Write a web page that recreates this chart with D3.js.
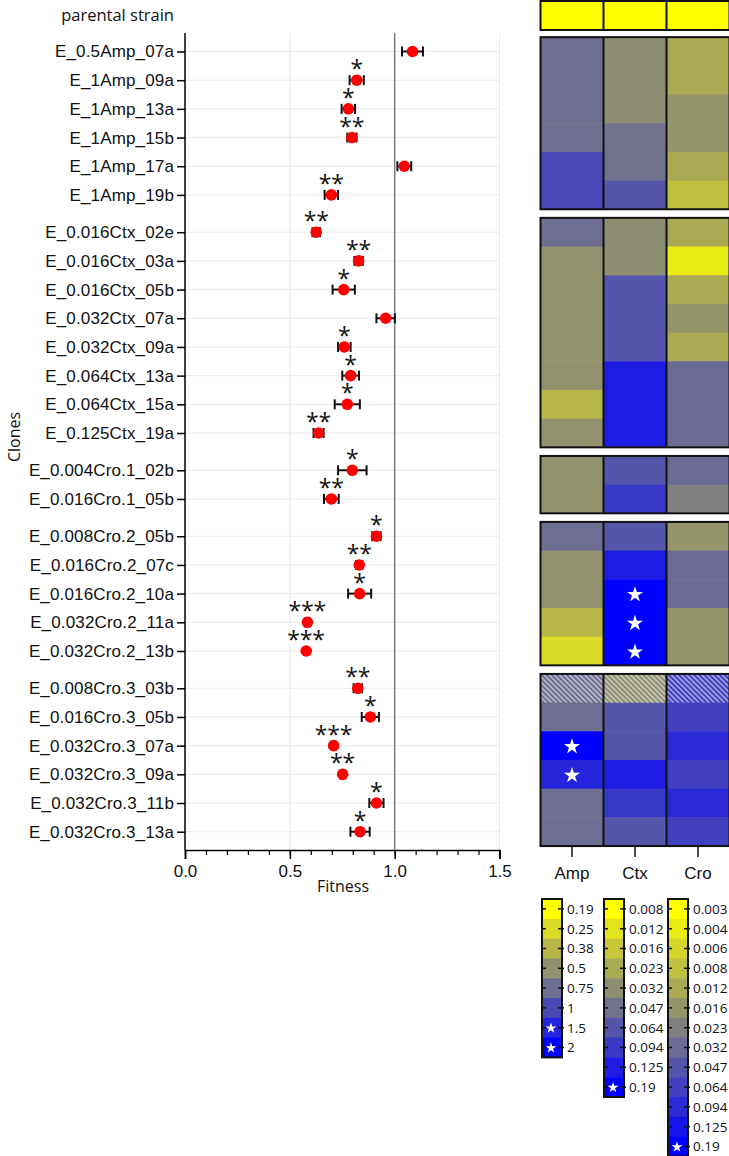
<!DOCTYPE html>
<html>
<head>
<meta charset="utf-8">
<script src="https://cdn.jsdelivr.net/npm/d3@7"></script>
<style>
  body { margin: 0; background: #fff; }
  svg { display: block; font-family: "Open Sans", sans-serif; }
  .rowlab text { font-size: 17px; letter-spacing: 0.15px; fill: #111; }
</style>
</head>
<body>
<div id="chart"></div>
<script>
// clones, grouped by the drug they were evolved on
var clones = ["E_0.5Amp_07a", "E_1Amp_09a", "E_1Amp_13a", "E_1Amp_15b", "E_1Amp_17a", "E_1Amp_19b",
  "E_0.016Ctx_02e", "E_0.016Ctx_03a", "E_0.016Ctx_05b", "E_0.032Ctx_07a", "E_0.032Ctx_09a", "E_0.064Ctx_13a", "E_0.064Ctx_15a", "E_0.125Ctx_19a",
  "E_0.004Cro.1_02b", "E_0.016Cro.1_05b",
  "E_0.008Cro.2_05b", "E_0.016Cro.2_07c", "E_0.016Cro.2_10a", "E_0.032Cro.2_11a", "E_0.032Cro.2_13b",
  "E_0.008Cro.3_03b", "E_0.016Cro.3_05b", "E_0.032Cro.3_07a", "E_0.032Cro.3_09a", "E_0.032Cro.3_11b", "E_0.032Cro.3_13a"];
var groups = [0,0,0,0,0,0, 1,1,1,1,1,1,1,1, 2,2, 3,3,3,3,3, 4,4,4,4,4,4];

var fitness = [1.085, 0.819, 0.779, 0.796, 1.046, 0.698,
  0.626, 0.828, 0.757, 0.957, 0.760, 0.790, 0.774, 0.637,
  0.798, 0.698,
  0.913, 0.831, 0.833, 0.584, 0.578,
  0.824, 0.884, 0.709, 0.752, 0.913, 0.835];
var fitnessErr = [0.05, 0.034, 0.032, 0.022, 0.033, 0.032,
  0.018, 0.02, 0.053, 0.044, 0.03, 0.04, 0.06, 0.024,
  0.068, 0.035,
  0.02, 0.015, 0.055, 0.01, 0.01,
  0.02, 0.041, 0.01, 0.01, 0.034, 0.046];
var signif = ["", "*", "*", "**", "", "**",
  "**", "**", "*", "", "*", "*", "*", "**",
  "*", "**",
  "*", "**", "*", "***", "***",
  "**", "*", "***", "**", "*", "*"];

// MIC values (mg/L)
var ampMIC = ["0.75","0.75","0.75","0.75","1","1",
  "0.75","0.5","0.5","0.5","0.5","0.5","0.38","0.5",
  "0.5","0.5",
  "0.75","0.5","0.5","0.38","0.25",
  "0.75","0.75","2","1.5","0.75","0.75"];
var ctxMIC = ["0.032","0.032","0.032","0.047","0.047","0.064",
  "0.032","0.032","0.064","0.064","0.064","0.125","0.125","0.125",
  "0.064","0.094",
  "0.064","0.125","0.19","0.19","0.19",
  "0.032","0.064","0.064","0.125","0.094","0.064"];
var croMIC = ["0.012","0.012","0.016","0.016","0.012","0.008",
  "0.012","0.004","0.012","0.016","0.012","0.032","0.032","0.032",
  "0.032","0.023",
  "0.016","0.032","0.032","0.016","0.016",
  "0.064","0.064","0.094","0.064","0.094","0.064"];
var hatchedClones = ["E_0.008Cro.3_03b"];

var parentalMIC = {Amp: "0.19", Ctx: "0.008", Cro: "0.003"};

var drugs = ["Amp", "Ctx", "Cro"];
var ampLevels = ["0.19","0.25","0.38","0.5","0.75","1","1.5","2"];
var ctxLevels = ["0.008","0.012","0.016","0.023","0.032","0.047","0.064","0.094","0.125","0.19"];
var croLevels = ["0.003","0.004","0.006","0.008","0.012","0.016","0.023","0.032","0.047","0.064","0.094","0.125","0.19"];
var ampResistant = ["1.5","2"];
var ctxResistant = ["0.19"];
var croResistant = ["0.19"];

var fitnessTicks = [0, 0.5, 1.0, 1.5];

var levels = {Amp: ampLevels, Ctx: ctxLevels, Cro: croLevels};
var resistant = {Amp: ampResistant, Ctx: ctxResistant, Cro: croResistant};
var mic = {Amp: ampMIC, Ctx: ctxMIC, Cro: croMIC};

function colorFor(drug, value) {
  var lv = levels[drug];
  var n = lv.length;
  var c = d3.scaleLinear()
    .domain([0, (n - 1) / 2, n - 1])
    .range(["#ffff00", "#808080", "#0000ff"]);
  return c(lv.indexOf(value));
}

var width = 729, height = 1156;
var rowH = 28.7;
var groupGap = 0.3;
var slots = clones.map((c, i) => i + groups[i] * groupGap);

var svg = d3.select("#chart").append("svg")
  .attr("width", width)
  .attr("height", height);

var defs = svg.append("defs");
var pat = defs.append("pattern")
  .attr("id", "hatch")
  .attr("patternUnits", "userSpaceOnUse")
  .attr("width", 3.6).attr("height", 3.6)
  .attr("patternTransform", "rotate(-45)");
pat.append("line")
  .attr("x1", 1).attr("y1", 0).attr("x2", 1).attr("y2", 3.6)
  .attr("stroke", "#fff").attr("stroke-width", 1).attr("stroke-opacity", 0.85);

/* Scales */
var y = d3.scaleLinear()
  .domain([0, clones.length - 1 + 4 * groupGap])
  .range([51.5, 831.7]);

var x = d3.scaleLinear()
  .domain([0, 1.5])
  .range([185, 499.5]);

var plotTop = 33, plotBottom = 850;

/* grid */
var grid = svg.append("g");
grid.selectAll(".hg")
  .data(slots).enter()
  .append("line")
  .attr("x1", x(0)).attr("x2", x(1.5))
  .attr("y1", d => y(d)).attr("y2", d => y(d))
  .attr("stroke", "#ebebeb").attr("stroke-width", 1);
grid.selectAll(".vg")
  .data([0.5, 1.5]).enter()
  .append("line")
  .attr("x1", d => x(d)).attr("x2", d => x(d))
  .attr("y1", plotTop).attr("y2", plotBottom)
  .attr("stroke", "#ebebeb").attr("stroke-width", 1);

// reference line at fitness 1
svg.append("line")
  .attr("x1", x(1)).attr("x2", x(1))
  .attr("y1", plotTop).attr("y2", plotBottom)
  .attr("stroke", "#7a7a7a").attr("stroke-width", 1.5);

/* Axes */
var yAxis = d3.axisLeft(y)
  .tickValues(slots)
  .tickFormat((d, i) => clones[i])
  .tickSize(8)
  .tickPadding(3);

svg.append("g")
  .attr("class", "rowlab")
  .attr("transform", `translate(${x(0)},0)`)
  .call(yAxis)
  .call(g => g.select(".domain").remove())
  .call(g => g.selectAll(".tick line").attr("stroke", "#000").attr("stroke-width", 1.5));

svg.append("line")
  .attr("x1", x(0)).attr("x2", x(0))
  .attr("y1", plotTop).attr("y2", plotBottom)
  .attr("stroke", "#000").attr("stroke-width", 1.5);

var xAxis = d3.axisBottom(x)
  .tickValues(fitnessTicks)
  .tickFormat(d3.format(".1f"))
  .tickSize(9)
  .tickPadding(6);

var xMinor = d3.axisBottom(x)
  .tickValues(d3.range(0, 16).map(d => d / 10))
  .tickFormat("")
  .tickSize(5);

svg.append("g")
  .attr("transform", `translate(0,${plotBottom})`)
  .call(xMinor)
  .call(g => g.select(".domain").remove())
  .call(g => g.selectAll(".tick line").attr("stroke", "#000").attr("stroke-width", 1.2));

svg.append("g")
  .attr("transform", `translate(0,${plotBottom})`)
  .call(xAxis)
  .call(g => g.select(".domain").attr("stroke", "#000").attr("stroke-width", 1.5))
  .call(g => g.selectAll(".tick line").attr("stroke", "#000").attr("stroke-width", 1.5))
  .call(g => g.selectAll(".tick text").attr("font-size", 17).attr("fill", "#111"));

svg.append("text")
  .attr("x", 343).attr("y", 892)
  .attr("text-anchor", "middle")
  .attr("font-size", 16)
  .attr("fill", "#111")
  .text("Fitness");

svg.append("text")
  .attr("transform", "translate(20,437) rotate(-90)")
  .attr("text-anchor", "middle")
  .attr("font-size", 16)
  .attr("fill", "#111")
  .text("Clones");

svg.append("text")
  .attr("x", 174).attr("y", 21)
  .attr("text-anchor", "end")
  .attr("font-size", 16.5)
  .attr("fill", "#111")
  .text("parental strain");

/* error bars + points */
var pts = svg.append("g");
var capH = 5;
clones.forEach(function(c, i) {
  var cy = y(slots[i]);
  var lo = x(fitness[i] - fitnessErr[i]), hi = x(fitness[i] + fitnessErr[i]);
  var g = pts.append("g").attr("stroke", "#111").attr("stroke-width", 2);
  g.append("line").attr("x1", lo).attr("x2", hi).attr("y1", cy).attr("y2", cy);
  g.append("line").attr("x1", lo).attr("x2", lo).attr("y1", cy - capH).attr("y2", cy + capH);
  g.append("line").attr("x1", hi).attr("x2", hi).attr("y1", cy - capH).attr("y2", cy + capH);
});

pts.selectAll("circle")
  .data(fitness).enter()
  .append("circle")
  .attr("cx", d => x(d))
  .attr("cy", (d, i) => y(slots[i]))
  .attr("r", 5.8)
  .attr("fill", "#ff0000");

// significance asterisks
var starStep = 12.5;
signif.forEach(function(s, i) {
  var k = s.length;
  for (var j = 0; j < k; j++) {
    svg.append("text")
      .attr("x", x(fitness[i]) + (j - (k - 1) / 2) * starStep)
      .attr("y", y(slots[i]) - 3)
      .attr("text-anchor", "middle")
      .attr("font-size", 23)
      .attr("fill", "#111")
      .text("*");
  }
});

/* Heatmap */
var hx = d3.scaleBand()
  .domain(drugs)
  .range([540.5, 729.5]);

var starSym = d3.symbol().type(d3.symbolStar);

var hm = svg.append("g");

// parental row
hm.selectAll(".par")
  .data(drugs).enter()
  .append("rect")
  .attr("x", d => hx(d)).attr("width", hx.bandwidth())
  .attr("y", 1).attr("height", 29)
  .attr("fill", d => colorFor(d, parentalMIC[d]));

drugs.forEach(function(drug) {
  hm.selectAll(".cell-" + drug)
    .data(clones).enter()
    .append("rect")
    .attr("x", hx(drug)).attr("width", hx.bandwidth())
    .attr("y", (c, i) => y(slots[i]) - rowH / 2)
    .attr("height", rowH + 0.5)
    .attr("fill", (c, i) => colorFor(drug, mic[drug][i]));

  hm.selectAll(".hatch-" + drug)
    .data(clones.filter(c => hatchedClones.includes(c))).enter()
    .append("rect")
    .attr("x", hx(drug)).attr("width", hx.bandwidth())
    .attr("y", c => y(slots[clones.indexOf(c)]) - rowH / 2)
    .attr("height", rowH)
    .attr("fill", "url(#hatch)");

  hm.selectAll(".star-" + drug)
    .data(clones.map((c, i) => i).filter(i => resistant[drug].includes(mic[drug][i]))).enter()
    .append("path")
    .attr("d", starSym.size(80))
    .attr("transform", i => `translate(${hx(drug) + hx.bandwidth() / 2},${y(slots[i]) + 1})`)
    .attr("fill", "#fff");
});

// block outlines
var blocks = d3.groups(clones.map((c, i) => i), i => groups[i]);
var outline = [{top: 1, bottom: 30}].concat(blocks.map(function(b) {
  var rows = b[1];
  return {top: y(slots[rows[0]]) - rowH / 2, bottom: y(slots[rows[rows.length - 1]]) + rowH / 2};
}));
outline.forEach(function(o) {
  hm.append("rect")
    .attr("x", hx.range()[0]).attr("y", o.top)
    .attr("width", hx.range()[1] - hx.range()[0]).attr("height", o.bottom - o.top)
    .attr("fill", "none").attr("stroke", "#111").attr("stroke-width", 2);
  drugs.slice(1).forEach(function(d) {
    hm.append("line")
      .attr("x1", hx(d)).attr("x2", hx(d))
      .attr("y1", o.top).attr("y2", o.bottom)
      .attr("stroke", "#111").attr("stroke-width", 2);
  });
});

var hmAxis = d3.axisBottom(hx).tickSize(11).tickPadding(10);
svg.append("g")
  .attr("transform", `translate(0,${outline[outline.length - 1].bottom})`)
  .call(hmAxis)
  .call(g => g.select(".domain").remove())
  .call(g => g.selectAll(".tick line").attr("stroke", "#111").attr("stroke-width", 1.5))
  .call(g => g.selectAll(".tick text").attr("font-size", 17).attr("fill", "#111"));

/* Legends */
var legTop = 899, legStep = 19.8, legW = 20;
var legX = {Amp: 542, Ctx: 604, Cro: 668};

drugs.forEach(function(drug) {
  var lv = levels[drug];
  var ly = d3.scaleBand()
    .domain(lv)
    .range([legTop, legTop + lv.length * legStep]);
  var x0 = legX[drug];
  var g = svg.append("g");

  g.selectAll("rect.lv")
    .data(lv).enter()
    .append("rect")
    .attr("x", x0).attr("width", legW)
    .attr("y", d => ly(d)).attr("height", ly.bandwidth() + 0.5)
    .attr("fill", d => colorFor(drug, d));

  g.append("rect")
    .attr("x", x0).attr("y", legTop)
    .attr("width", legW).attr("height", lv.length * legStep)
    .attr("fill", "none").attr("stroke", "#111").attr("stroke-width", 2);

  g.selectAll("line.tl")
    .data(lv).enter()
    .append("line")
    .attr("x1", x0 - 1).attr("x2", x0 + 4)
    .attr("y1", d => ly(d) + ly.bandwidth() / 2).attr("y2", d => ly(d) + ly.bandwidth() / 2)
    .attr("stroke", "#111").attr("stroke-width", 1.5);
  g.selectAll("line.tr")
    .data(lv).enter()
    .append("line")
    .attr("x1", x0 + legW - 4).attr("x2", x0 + legW + 2)
    .attr("y1", d => ly(d) + ly.bandwidth() / 2).attr("y2", d => ly(d) + ly.bandwidth() / 2)
    .attr("stroke", "#111").attr("stroke-width", 1.5);

  g.selectAll("path.st")
    .data(lv.filter(d => resistant[drug].includes(d))).enter()
    .append("path")
    .attr("d", starSym.size(36))
    .attr("transform", d => `translate(${x0 + 9},${ly(d) + ly.bandwidth() / 2 + 0.5})`)
    .attr("fill", "#fff");

  g.selectAll("text")
    .data(lv).enter()
    .append("text")
    .attr("x", x0 + legW + 5)
    .attr("y", d => ly(d) + ly.bandwidth() / 2)
    .attr("dy", "0.36em")
    .attr("font-size", 13.5)
    .attr("fill", "#111")
    .text(d => d);
});
</script>
</body>
</html>
